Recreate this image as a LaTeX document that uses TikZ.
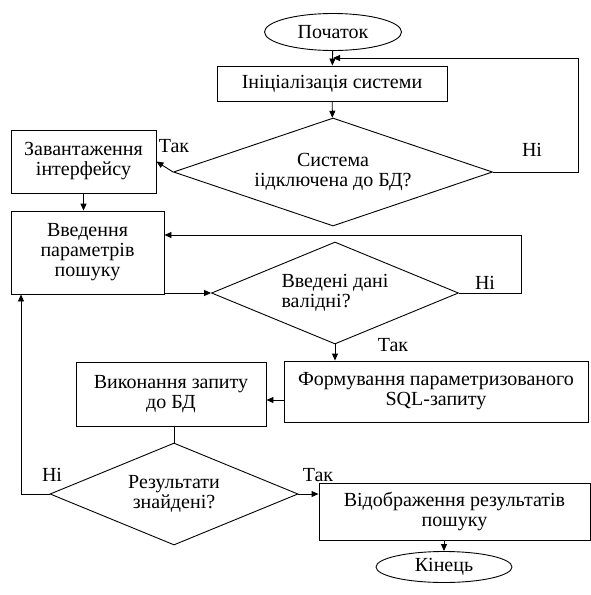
\documentclass[tikz,border=0pt]{standalone}
\usepackage{fontspec}
\setmainfont{Liberation Serif}
\usetikzlibrary{shapes.geometric,arrows.meta}

\tikzset{
  blok/.style={draw, rectangle, align=center, inner sep=2pt},
  romb/.style={draw, diamond, align=center, inner sep=0pt, aspect=2.5},
  owal/.style={draw, ellipse, inner sep=0pt},
  strz/.style={-{Triangle[length=7pt,width=6pt]}},
  etyk/.style={inner sep=0pt}
}

\begin{document}
\begin{tikzpicture}[x=1pt, y=-1pt, line width=0.9pt, font=\fontsize{20}{20}\selectfont]

\useasboundingbox (0,0) rectangle (591,595);

% ---------- Bloki ----------
\node[owal, minimum width=137pt, minimum height=37pt] (start) at (333,32) {Початок};
\node[blok, minimum width=230pt, minimum height=35pt] (init) at (332,83.5) {Ініціалізація системи};
\node[romb, aspect=3, minimum width=319pt, minimum height=108pt] (d1) at (333,172) {Система\\іідключена до БД?};
\node[blok, minimum width=145pt, minimum height=63pt] (load) at (83.5,161.5) {Завантаження\\інтерфейсу};
\node[blok, minimum width=153pt, minimum height=83pt] (input) at (87.5,252.5) {Введення\\параметрів\\пошуку};
\node[romb, align=left, minimum width=247pt, minimum height=102pt] (d2) at (335,293) {Введені дані\\валідні?};
\node[blok, minimum width=304pt, minimum height=61pt] (form) at (436,391.5) {Формування параметризованого\\SQL-запиту};
\node[blok, minimum width=190pt, minimum height=64pt] (exec) at (171,394) {Виконання запиту\\до БД};
\node[romb, minimum width=248pt, minimum height=102pt] (d3) at (174,494) {Результати\\знайдені?};
\node[blok, minimum width=271pt, minimum height=57pt] (res) at (454.5,511.5) {Відображення результатів\\пошуку};
\node[owal, minimum width=136pt, minimum height=31pt] (end) at (444,567) {Кінець};

% ---------- Etykiety ----------
\node[etyk] (tak1) at (174,146) {Так};
\node[etyk] (ni1) at (532,150) {Ні};
\node[etyk] (ni2) at (485,283) {Ні};
\node[etyk] (tak2) at (393,345) {Так};
\node[etyk] (ni3) at (52,475) {Ні};
\node[etyk] (tak3) at (318,475) {Так};

% ---------- Polaczenia ----------
\coordinate (powrot) at (333,58);
\draw[strz] (start) -- (init);
\draw[strz] (init) -- (d1);
\draw[strz] (d1.west) -- (load.east);
\draw[strz] (d1.east) -- (578,172) -- (578,58) -- (powrot);
\draw[strz] (load.south) -- (load.south |- input.north);
\draw[strz] (input.east |- d2.west) -- (d2.west);
\draw[strz] (d2.east) -- (521,293) -- (521,235) -- (input.east |- 0,235);
\draw[strz] (d2.south) -- (d2.south |- form.north);
\draw[strz] ([yshift=-8.5pt]form.west) -- ([yshift=-8.5pt]form.west -| exec.east);
\draw (d3.north |- exec.south) -- (d3.north);
\draw[strz] (d3.west) -- (d3.west -| 21,0) -- (input.south -| 21,0);
\draw[strz] (d3.east) -- (d3.east -| res.west);
\draw[strz] (end.north |- res.south) -- (end.north);

\end{tikzpicture}
\end{document}
